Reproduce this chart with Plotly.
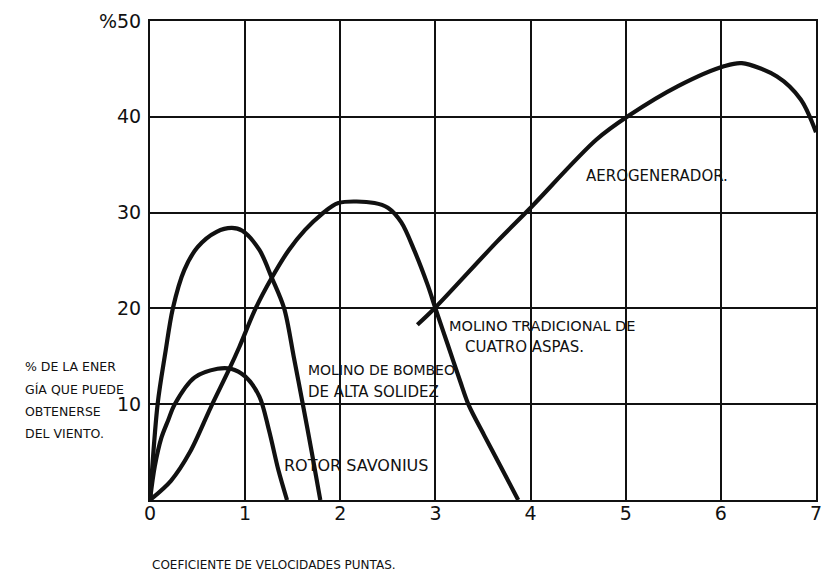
import plotly.graph_objects as go

# Tip-speed ratio (x) vs. % of wind energy extracted (y) for several rotor types
savonius_x = [0, 0.05, 0.12, 0.19, 0.26, 0.47, 0.71, 0.85, 1.0, 1.15, 1.25, 1.35, 1.44]
savonius_y = [0, 3.5, 6.5, 8.3, 10.0, 12.8, 13.7, 13.7, 12.9, 10.8, 7.3, 3.1, 0]

solidez_x = [0, 0.08, 0.16, 0.24, 0.36, 0.50, 0.70, 0.86, 0.97, 1.15, 1.28, 1.41, 1.51, 1.61, 1.70, 1.79]
solidez_y = [0, 10, 15.3, 20, 24, 26.4, 28.0, 28.4, 28.1, 26.1, 23.2, 20, 15, 9.8, 5.0, 0]

tradicional_x = [0, 0.22, 0.42, 0.64, 0.83, 0.94, 1.11, 1.28, 1.46, 1.63, 1.80, 1.98, 2.36, 2.50,
                 2.64, 2.78, 2.92, 3.0, 3.13, 3.26, 3.35, 3.51, 3.68, 3.87]
tradicional_y = [0, 2.0, 5.0, 9.7, 13.6, 16.0, 20.0, 23.2, 26.1, 28.2, 29.8, 31.0, 31.0, 30.5,
                 29.0, 26.0, 22.4, 20.0, 16.2, 12.4, 9.9, 6.8, 3.6, 0]

aero_x = [2.81, 3.0, 3.65, 3.99, 4.69, 5.03, 5.55, 6.04, 6.22, 6.59, 6.84, 7.0]
aero_y = [18.3, 20.1, 27.0, 30.4, 37.6, 40.1, 43.2, 45.3, 45.6, 44.2, 41.8, 38.4]

x_ticks = [0, 1, 2, 3, 4, 5, 6, 7]
x_tick_text = ["0", "1", "2", "3", "4", "5", "6", "7"]
y_ticks = [10, 20, 30, 40, 50]
y_tick_text = ["10", "20", "30", "40", "%50"]

INK = "#111111"
FONT = "DejaVu Sans"

fig = go.Figure()
for xs, ys in [(savonius_x, savonius_y), (solidez_x, solidez_y),
               (tradicional_x, tradicional_y), (aero_x, aero_y)]:
    fig.add_trace(go.Scatter(x=xs, y=ys, mode="lines",
                             line=dict(color=INK, width=4.2, shape="spline", smoothing=0.9),
                             showlegend=False, hoverinfo="skip"))

axis_common = dict(showgrid=True, gridcolor=INK, gridwidth=1.8, zeroline=False,
                   showline=True, linecolor=INK, linewidth=2, mirror=True,
                   tickfont=dict(family=FONT, size=19, color=INK), ticks="")

fig.update_xaxes(range=[0, 7], tickvals=x_ticks, ticktext=x_tick_text,
                 ticklabelstandoff=-5, **axis_common)
fig.update_yaxes(range=[0, 50], tickvals=y_ticks, ticktext=y_tick_text,
                 ticklabelstandoff=3, **axis_common)

# curve labels: (x, y, text, font size)
curve_labels = [
    (4.5625, 33.8, "AEROGENERADOR.", 15),
    (3.125, 18.2, "MOLINO TRADICIONAL DE", 14.5),
    (3.29, 16.0, "CUATRO ASPAS.", 15),
    (1.635, 13.6, "MOLINO DE BOMBEO", 14),
    (1.635, 11.3, "DE ALTA SOLIDEZ", 15),
    (1.385, 3.55, "ROTOR SAVONIUS", 16),
]
for x, y, t, s in curve_labels:
    fig.add_annotation(x=x, y=y, text=t, showarrow=False, xanchor="left",
                       yanchor="middle", font=dict(family=FONT, size=s, color=INK))

# y-axis caption, one annotation per line
y_caption = ["% DE LA ENER", "GÍA QUE PUEDE", "OBTENERSE", "DEL VIENTO."]
y_caption_pos = [0.2797, 0.2317, 0.1858, 0.1378]
for t, py in zip(y_caption, y_caption_pos):
    fig.add_annotation(xref="paper", yref="paper", x=-0.1905, y=py, text=t,
                       showarrow=False, xanchor="left", yanchor="middle",
                       font=dict(family=FONT, size=12.5, color=INK))

fig.add_annotation(xref="paper", yref="paper", x=0.0, y=-0.1357,
                   text="COEFICIENTE DE VELOCIDADES PUNTAS.",
                   showarrow=False, xanchor="left", yanchor="middle",
                   font=dict(family=FONT, size=12, color=INK))

fig.update_layout(width=830, height=577, margin=dict(l=150, r=8, t=21, b=77),
                  paper_bgcolor="white", plot_bgcolor="white")

fig.write_html("out.html")
